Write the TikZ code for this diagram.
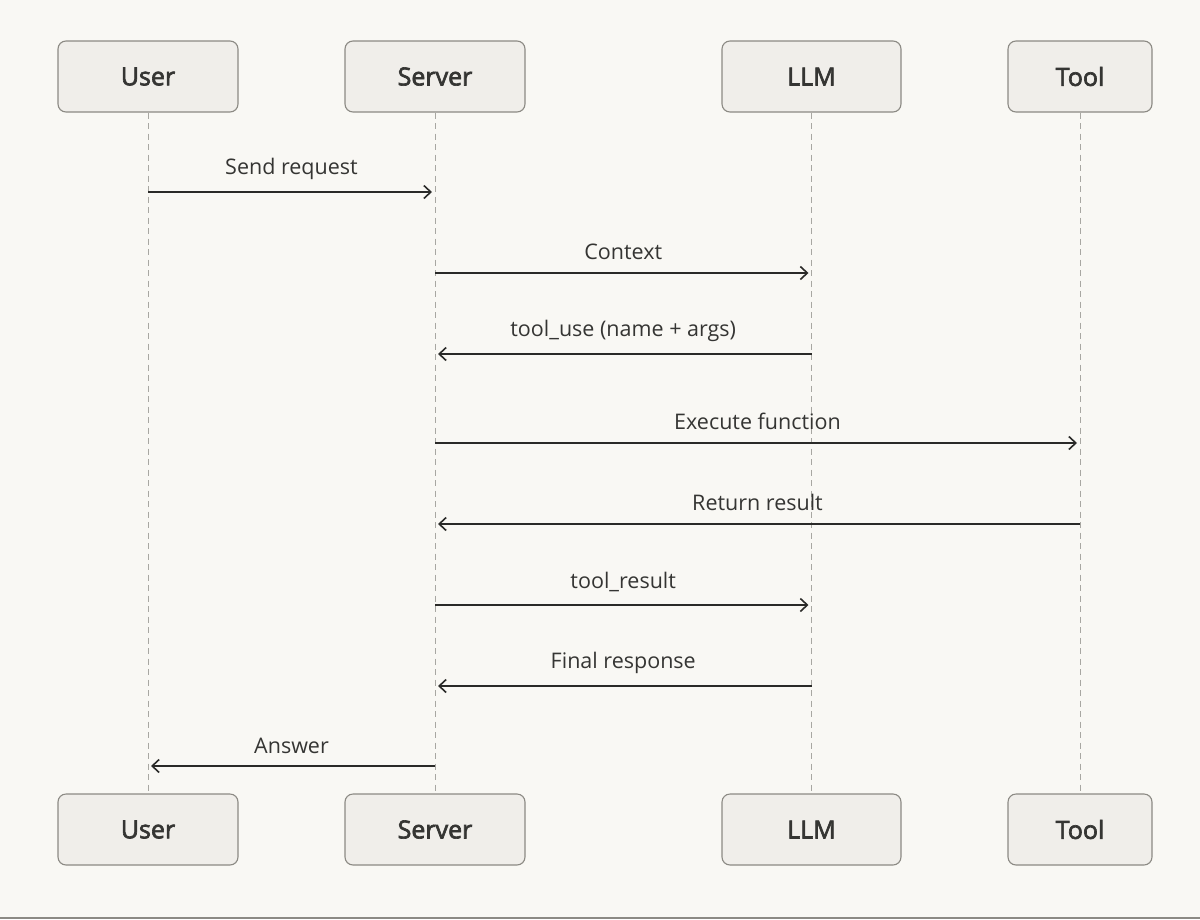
\documentclass[tikz,border=0pt]{standalone}
\usepackage{fontspec}
\setmainfont{Open Sans}
\newfontfamily\boxfont{Open Sans}[FakeBold=2.6]
\usetikzlibrary{arrows.meta}
\definecolor{bg}{HTML}{F9F8F4}
\definecolor{boxfill}{HTML}{F0EEEA}
\definecolor{boxdraw}{HTML}{8C8A84}
\definecolor{txt}{HTML}{353533}
\definecolor{arrowc}{HTML}{2A2A28}
\definecolor{lifec}{HTML}{A8A7A2}
\tikzset{
  actor/.style={draw=boxdraw, fill=boxfill, line width=1.1pt, rounded corners=8pt,
    minimum height=71pt, text=txt, font=\boxfont\fontsize{25}{30}\selectfont, inner sep=0pt},
  life/.style={draw=lifec, line width=1pt, dash pattern=on 6pt off 4.5pt},
  msg/.style={draw=arrowc, line width=1.6pt, -{Straight Barb[length=7pt,width=13pt,line width=1.6pt]}, shorten >=3pt},
  lbl/.style={text=txt, font=\fontsize{21.5}{26}\selectfont, inner sep=0pt, anchor=base}
}
\begin{document}
\begin{tikzpicture}[x=1pt,y=-1pt]
\fill[bg] (0,0) rectangle (1200,919);
\useasboundingbox (0,0) rectangle (1200,919);
\draw[boxdraw, line width=2pt] (0,918) -- (1200,918);
% top actors
\node[actor, minimum width=180pt] (ut) at (148,76.5) {User};
\node[actor, minimum width=180pt] (st) at (435,76.5) {Server};
\node[actor, minimum width=179pt] (lt) at (811.5,76.5) {LLM};
\node[actor, minimum width=144pt] (tt) at (1080,76.5) {Tool};
% bottom actors
\node[actor, minimum width=180pt] (ub) at (148,829.5) {User};
\node[actor, minimum width=180pt] (sb) at (435,829.5) {Server};
\node[actor, minimum width=179pt] (lb) at (811.5,829.5) {LLM};
\node[actor, minimum width=144pt] (tb) at (1080,829.5) {Tool};
% lifelines
\draw[life] (ut.south) -- (ub.north);
\draw[life] (st.south) -- (sb.north);
\draw[life] (lt.south) -- (lb.north);
\draw[life] (tt.south) -- (tb.north);
% anchor points on lifelines
\foreach \n/\x in {u/148, s/435, l/811.5, t/1080}{
  \foreach \k/\y in {1/192, 2/273, 3/354, 4/443, 5/524, 6/605, 7/686, 8/766}{
    \coordinate (\n\k) at (\x,\y);
  }
}
% messages
\draw[msg] (u1) -- node[lbl, above=12pt] {Send request} (s1);
\draw[msg] (s2) -- node[lbl, above=12pt] {Context} (l2);
\draw[msg] (l3) -- node[lbl, above=12pt] {tool\_use (name + args)} (s3);
\draw[msg] (s4) -- node[lbl, above=12pt] {Execute function} (t4);
\draw[msg] (t5) -- node[lbl, above=12pt] {Return result} (s5);
\draw[msg] (s6) -- node[lbl, above=12pt] {tool\_result} (l6);
\draw[msg] (l7) -- node[lbl, above=12pt] {Final response} (s7);
\draw[msg] (s8) -- node[lbl, above=12pt] {Answer} (u8);
\end{tikzpicture}
\end{document}
